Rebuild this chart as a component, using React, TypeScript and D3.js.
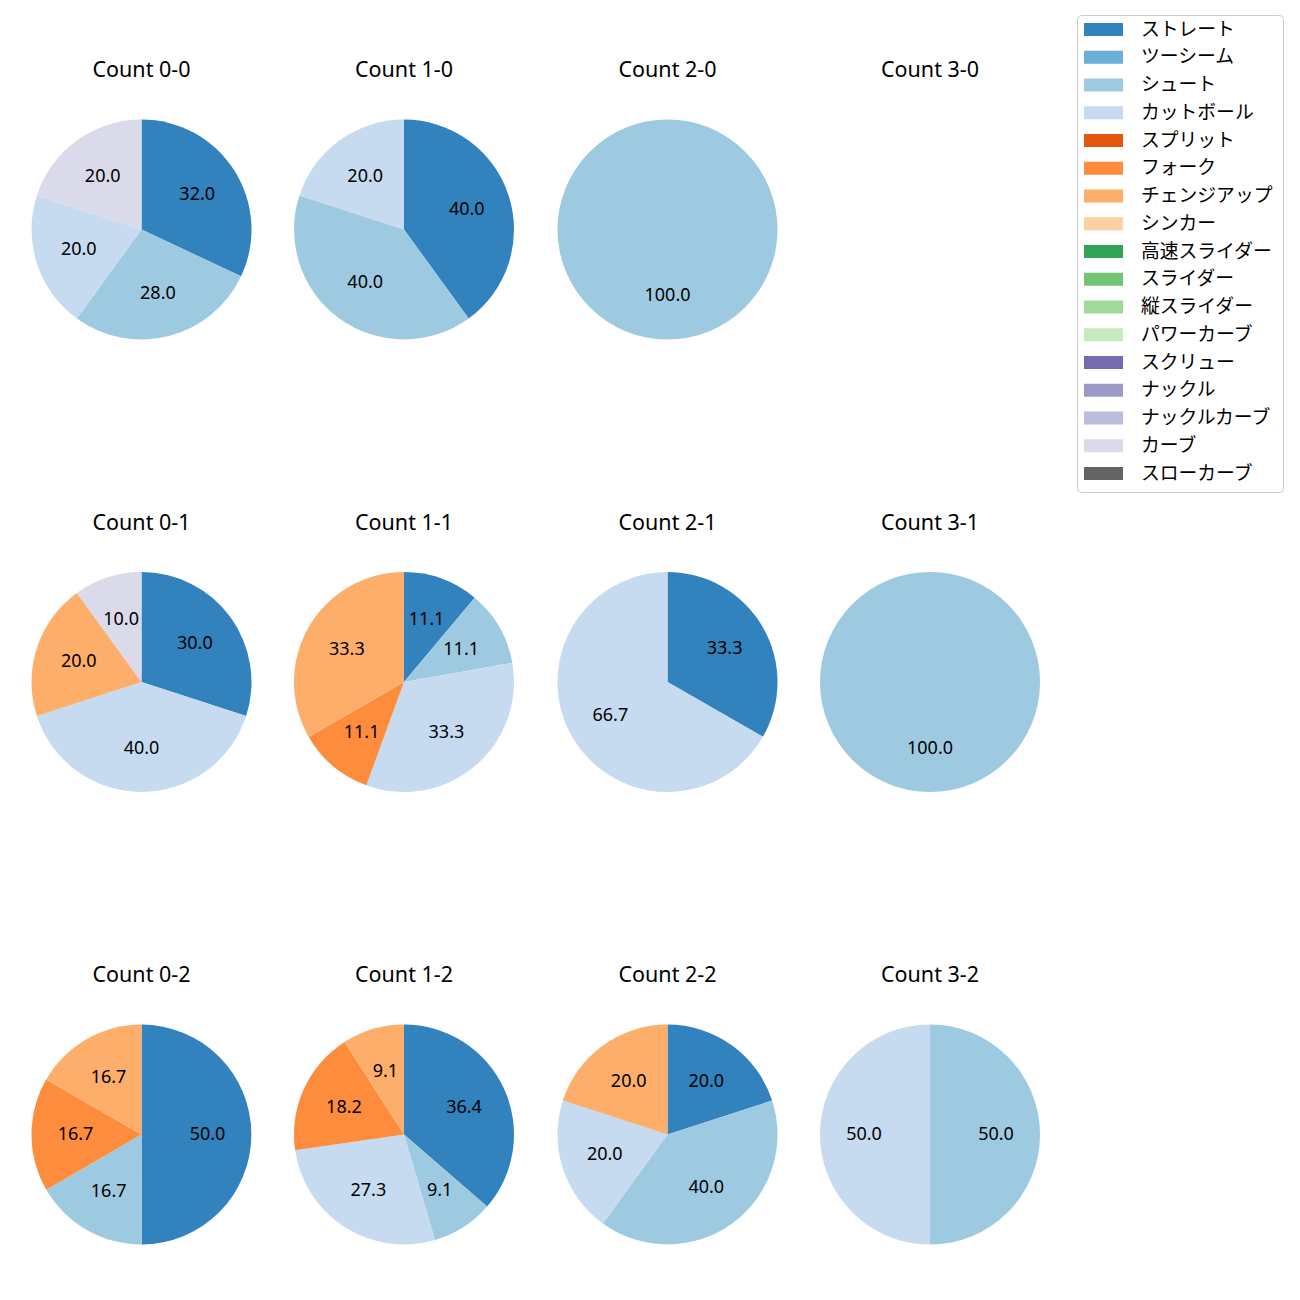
import React from "react";
import * as d3 from "d3";

const pitchTypes = [
  "ストレート", "ツーシーム", "シュート", "カットボール", "スプリット", "フォーク",
  "チェンジアップ", "シンカー", "高速スライダー", "スライダー", "縦スライダー",
  "パワーカーブ", "スクリュー", "ナックル", "ナックルカーブ", "カーブ", "スローカーブ",
];
const pitchColors = [
  "#3182bd", "#6baed6", "#9ecae1", "#c6dbef", "#e6550d", "#fd8d3c",
  "#fdae6b", "#fdd0a2", "#31a354", "#74c476", "#a1d99b", "#c7e9c0",
  "#756bb1", "#9e9ac8", "#bcbddc", "#dadaeb", "#636363",
];

const countTitles = [
  ["Count 0-0", "Count 1-0", "Count 2-0", "Count 3-0"],
  ["Count 0-1", "Count 1-1", "Count 2-1", "Count 3-1"],
  ["Count 0-2", "Count 1-2", "Count 2-2", "Count 3-2"],
];

// values per count, in pitchTypes order
const count00 = [32, 0, 28, 20, 0, 0, 0, 0, 0, 0, 0, 0, 0, 0, 0, 20, 0];
const count10 = [40, 0, 40, 20, 0, 0, 0, 0, 0, 0, 0, 0, 0, 0, 0, 0, 0];
const count20 = [0, 0, 100, 0, 0, 0, 0, 0, 0, 0, 0, 0, 0, 0, 0, 0, 0];
const count30 = [0, 0, 0, 0, 0, 0, 0, 0, 0, 0, 0, 0, 0, 0, 0, 0, 0];
const count01 = [30, 0, 0, 40, 0, 0, 20, 0, 0, 0, 0, 0, 0, 0, 0, 10, 0];
const count11 = [11.1, 0, 11.1, 33.3, 0, 11.1, 33.3, 0, 0, 0, 0, 0, 0, 0, 0, 0, 0];
const count21 = [33.3, 0, 0, 66.7, 0, 0, 0, 0, 0, 0, 0, 0, 0, 0, 0, 0, 0];
const count31 = [0, 0, 100, 0, 0, 0, 0, 0, 0, 0, 0, 0, 0, 0, 0, 0, 0];
const count02 = [50, 0, 16.7, 0, 0, 16.7, 16.7, 0, 0, 0, 0, 0, 0, 0, 0, 0, 0];
const count12 = [36.4, 0, 9.1, 27.3, 0, 18.2, 9.1, 0, 0, 0, 0, 0, 0, 0, 0, 0, 0];
const count22 = [20, 0, 40, 20, 0, 0, 20, 0, 0, 0, 0, 0, 0, 0, 0, 0, 0];
const count32 = [0, 0, 50, 50, 0, 0, 0, 0, 0, 0, 0, 0, 0, 0, 0, 0, 0];

const countValues = [
  [count00, count10, count20, count30],
  [count01, count11, count21, count31],
  [count02, count12, count22, count32],
];

const FONT = "'Noto Sans', 'Noto Sans CJK JP', sans-serif";

function Pie({ cx, cy, r, title, values }: { cx: number; cy: number; r: number; title: string; values: number[] }) {
  const items = values
    .map((v, i) => ({ v, i }))
    .filter((d) => d.v > 0);
  const pie = d3.pie<{ v: number; i: number }>().sort(null).value((d) => d.v);
  const arcs = pie(items);
  const arcGen = d3.arc<d3.PieArcDatum<{ v: number; i: number }>>().innerRadius(0).outerRadius(r);
  return (
    <g>
      <text x={cx} y={cy - 161} textAnchor="middle" dominantBaseline="central" fontSize={21.5} fontFamily={FONT} fill="#000">
        {title}
      </text>
      <g transform={`translate(${cx},${cy})`}>
        {arcs.map((a, k) => (
          <path key={k} d={arcGen(a) || ""} fill={pitchColors[a.data.i]} />
        ))}
        {arcs.map((a, k) => {
          const mid = (a.startAngle + a.endAngle) / 2;
          const lr = r * 0.6;
          return (
            <text key={"t" + k} x={Math.sin(mid) * lr} y={-Math.cos(mid) * lr - 1.5} textAnchor="middle"
              dominantBaseline="central" fontSize={18} fontFamily={FONT} fill="#000">
              {a.data.v.toFixed(1)}
            </text>
          );
        })}
      </g>
    </g>
  );
}

export default function App() {
  const colX = [141.5, 404, 667.5, 930];
  const rowY = [229.5, 682, 1134.5];
  const r = 110;
  const legX = 1077, legY = 15, legW = 206, legH = 477;
  const rowH = 27.75;
  return (
    <svg width={1300} height={1300} style={{ display: "block", margin: "-8px" }}>
      <rect x={0} y={0} width={1300} height={1300} fill="#fff" />
      {countTitles.map((row, ri) =>
        row.map((t, ci) => (
          <Pie key={t} cx={colX[ci]} cy={rowY[ri]} r={r} title={t} values={countValues[ri][ci]} />
        ))
      )}
      <rect x={legX + 0.5} y={legY + 0.5} width={legW} height={legH} rx={4} fill="#fff" stroke="#cccccc" strokeWidth={1} />
      {pitchTypes.map((p, i) => {
        const y = 29.5 + i * rowH;
        return (
          <g key={p}>
            <rect x={1084} y={y - 6.5} width={39} height={13} fill={pitchColors[i]} />
            <text x={1141} y={y - 1} dominantBaseline="central" fontSize={18.8} fontFamily={FONT} fill="#000">
              {p}
            </text>
          </g>
        );
      })}
    </svg>
  );
}
